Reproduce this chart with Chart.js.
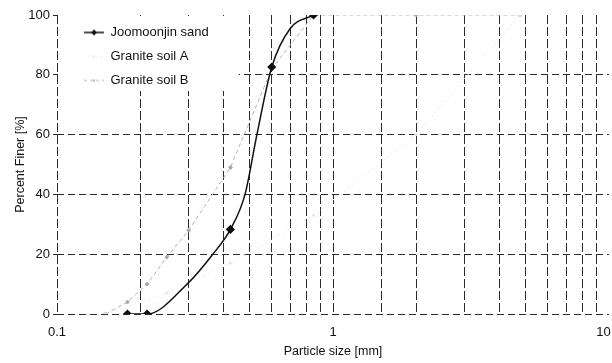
<!DOCTYPE html>
<html><head><meta charset="utf-8">
<script src="https://cdn.jsdelivr.net/npm/chart.js@4/dist/chart.umd.min.js"></script>
<style>html,body{margin:0;padding:0;background:#fff;overflow:hidden}#wrap{width:612px;height:363px}</style>
</head><body><div id="wrap"><canvas id="c" width="612" height="363"></canvas></div>
<script>
// ---- data ----
const seriesNames = ['Joomoonjin sand', 'Granite soil A', 'Granite soil B'];
const joomoonjinSize = [0.18, 0.212, 0.296, 0.367, 0.425, 0.48, 0.53, 0.6, 0.7, 0.85];
const joomoonjinPct  = [0, 0, 10, 20, 28.3, 40, 60, 82.6, 95.5, 100];
const joomoonjinMarked = [1, 1, 0, 0, 1, 0, 0, 1, 0, 1];
const graniteASize = [0.15, 0.25, 0.425, 0.85, 2.0, 4.75];
const graniteAPct  = [0, 7, 17, 33, 60, 100];
const graniteBSize = [0.15, 0.18, 0.212, 0.25, 0.3, 0.425, 0.6, 0.85, 2.0, 4.75];
const graniteBPct  = [0, 4, 10, 19, 28, 49, 82, 100, 100, 100];
const xTickLabels = [0.1, 1, 10];
const yMin = 0, yMax = 100, yStep = 20;
const xTitle = 'Particle size [mm]';
const yTitle = 'Percent Finer [%]';

const FONT = "'Liberation Sans', Arial, Helvetica, sans-serif";
const pts = (xs, ys) => xs.map((x, i) => ({x: x, y: ys[i]}));
const isLabelTick = v => xTickLabels.some(t => Math.abs(Math.log10(v) - Math.log10(t)) < 1e-6);
const isLast = v => Math.abs(Math.log10(v) - Math.log10(xTickLabels[xTickLabels.length - 1])) < 1e-6;

function swatch(color, dash, lw, mColor, mR) {
  const c = document.createElement('canvas');
  c.width = 36; c.height = 10;
  const g = c.getContext('2d');
  g.strokeStyle = color; g.lineWidth = lw; g.setLineDash(dash);
  g.beginPath(); g.moveTo(16, 5); g.lineTo(36, 5); g.stroke();
  if (mR > 0) {
    g.setLineDash([]); g.fillStyle = mColor;
    g.beginPath(); g.moveTo(26, 5 - mR); g.lineTo(26 + mR, 5); g.lineTo(26, 5 + mR); g.lineTo(26 - mR, 5); g.closePath(); g.fill();
  }
  return c;
}
const swatches = [
  swatch('#111', [], 1.5, '#111', 3),
  swatch('#ededed', [2, 2], 1, '#ededed', 1.5),
  swatch('#b5b5b5', [3, 3], 1, '#b5b5b5', 1.5)
];

const legendBg = {
  id: 'legendBg',
  afterLayout(chart) {
    const lg = chart.legend;
    if (!lg) return;
    // place the legend box at the top-left corner of the plot area
    lg.top = chart.chartArea.top;
    lg.bottom = lg.top + lg.height;
    if (lg._bgPatched) return;
    const orig = lg.draw.bind(lg);
    lg.draw = function () {
      const hb = this.legendHitBoxes || [];
      if (hb.length) {
        const ca = chart.chartArea;
        const r = Math.max(...hb.map(h => h.left + h.width)) + 30;
        const b = Math.max(...hb.map(h => h.top + h.height)) + 4;
        const ctx = chart.ctx;
        ctx.save(); ctx.fillStyle = '#fff';
        ctx.fillRect(ca.left + 1, ca.top + 1, r - ca.left - 1, b - ca.top - 1);
        ctx.restore();
      }
      orig();
    };
    lg._bgPatched = true;
  }
};

new Chart(document.getElementById('c'), {
  type: 'line',
  data: {
    datasets: [
      {
        label: seriesNames[0],
        data: pts(joomoonjinSize, joomoonjinPct),
        borderColor: '#111', backgroundColor: '#111', borderWidth: 1.5,
        pointStyle: 'rectRot',
        pointRadius: joomoonjinMarked.map(m => m ? 3.5 : 0),
        pointBackgroundColor: '#111', pointBorderColor: '#111',
        cubicInterpolationMode: 'monotone', fill: false
      },
      {
        label: seriesNames[1],
        data: pts(graniteASize, graniteAPct),
        borderColor: '#ececec', backgroundColor: '#ececec', borderWidth: 1,
        borderDash: [2, 3], pointStyle: 'rectRot', pointRadius: 1.5,
        pointBackgroundColor: '#e6e6e6', pointBorderColor: '#e6e6e6',
        tension: 0, fill: false
      },
      {
        label: seriesNames[2],
        data: pts(graniteBSize, graniteBPct),
        borderColor: '#b3b3b3', backgroundColor: '#b3b3b3', borderWidth: 1,
        borderDash: [4, 3], pointStyle: 'rectRot', pointRadius: 2,
        pointBackgroundColor: '#aaa', pointBorderColor: '#aaa',
        tension: 0, fill: false
      }
    ]
  },
  options: {
    responsive: false,
    animation: false,
    devicePixelRatio: 1,
    layout: { autoPadding: false, padding: { left: 0, right: 0, top: 15, bottom: 0 } },
    plugins: {
      tooltip: { enabled: false },
      legend: {
        position: 'chartArea',
        align: 'start',
        labels: {
          usePointStyle: true,
          pointStyleWidth: 36,
          padding: 11,
          color: '#111',
          font: { family: FONT, size: 13 },
          generateLabels(chart) {
            const items = Chart.defaults.plugins.legend.labels.generateLabels(chart);
            items.forEach((it, i) => { it.pointStyle = swatches[i]; it.lineWidth = 0; });
            return items;
          }
        }
      }
    },
    scales: {
      x: {
        type: 'logarithmic',
        min: 0.1, max: 10,
        border: { display: false, dash: [9, 3] },
        afterFit(s) { s.height = 49; s.paddingLeft = 0; s.paddingRight = 3; },
        grid: {
          drawTicks: false,
          lineWidth: 1,
          color: c => (c.tick && isLast(c.tick.value)) ? 'rgba(0,0,0,0)' : '#2b2b2b'
        },
        ticks: {
          autoSkip: false, maxRotation: 0, minRotation: 0, padding: 10.5,
          color: '#111', font: { family: FONT, size: 13 },
          callback: v => isLabelTick(v) ? (String(+Number(v).toPrecision(3)) + (isLast(v) ? '   ' : '')) : ''
        },
        title: { display: true, text: xTitle, color: '#111', font: { family: FONT, size: 12.5 }, padding: { top: 0, bottom: 3.5 } }
      },
      y: {
        min: yMin, max: yMax,
        border: { display: false, dash: [7, 4] },
        afterFit(s) { s.width = 57; s.paddingTop = 0; s.paddingBottom = 0; },
        grid: {
          drawTicks: true, tickLength: 4, tickColor: '#222', lineWidth: 1,
          color: c => (c.tick && c.tick.value >= yMax) ? 'rgba(0,0,0,0)' : '#2b2b2b'
        },
        ticks: {
          stepSize: yStep, padding: 3,
          color: '#111', font: { family: FONT, size: 13 }
        },
        title: { display: true, text: yTitle, color: '#111', font: { family: FONT, size: 12.5 }, padding: { top: 13, bottom: 4 } }
      }
    }
  },
  plugins: [legendBg]
});
</script>
</body></html>
